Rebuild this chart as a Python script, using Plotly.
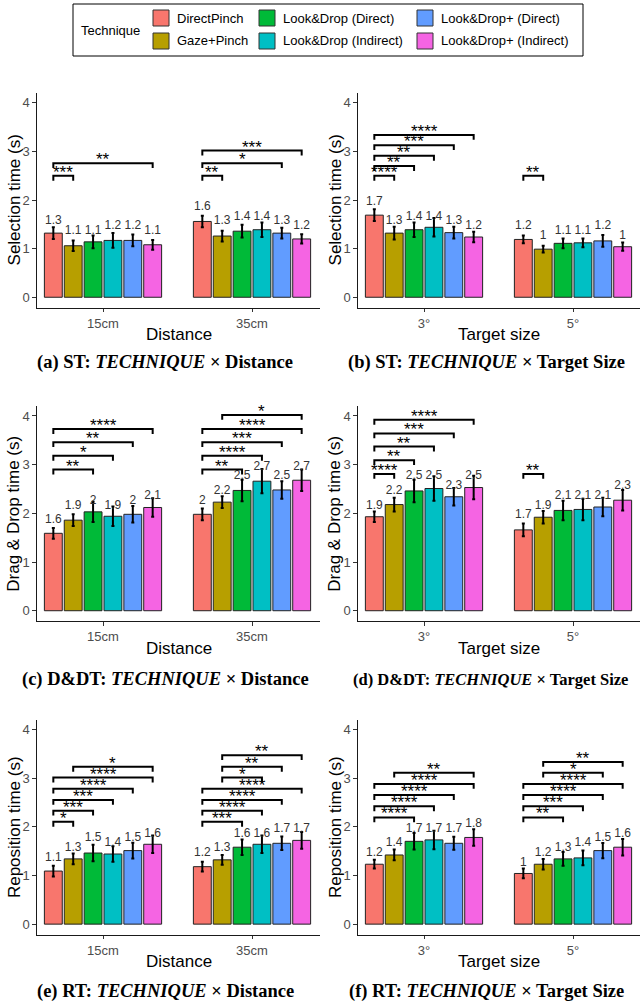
import plotly.graph_objects as go

# ---------------- data ----------------
techniques = ["DirectPinch", "Gaze+Pinch", "Look&Drop (Direct)", "Look&Drop (Indirect)",
              "Look&Drop+ (Direct)", "Look&Drop+ (Indirect)"]
colors = ["#F8766D", "#B79F00", "#00BA38", "#00BFC4", "#619CFF", "#F564E3"]

distance_labels = ["15cm", "35cm"]
size_labels = ["3°", "5°"]

# Selection time x Distance
st_dist_mean_15 = [1.32, 1.06, 1.14, 1.17, 1.17, 1.08]
st_dist_se_15 = [0.12, 0.11, 0.13, 0.15, 0.12, 0.10]
st_dist_mean_35 = [1.56, 1.26, 1.36, 1.39, 1.32, 1.20]
st_dist_se_35 = [0.12, 0.11, 0.13, 0.15, 0.11, 0.095]
# Selection time x Target size
st_size_mean_3 = [1.69, 1.32, 1.39, 1.44, 1.33, 1.24]
st_size_se_3 = [0.12, 0.13, 0.15, 0.19, 0.12, 0.11]
st_size_mean_5 = [1.19, 0.99, 1.11, 1.12, 1.16, 1.04]
st_size_se_5 = [0.08, 0.07, 0.10, 0.09, 0.12, 0.085]
# Drag & drop time x Distance
dd_dist_mean_15 = [1.59, 1.86, 2.03, 1.94, 1.98, 2.12]
dd_dist_se_15 = [0.11, 0.12, 0.21, 0.20, 0.17, 0.19]
dd_dist_mean_35 = [1.98, 2.23, 2.47, 2.66, 2.48, 2.68]
dd_dist_se_35 = [0.12, 0.12, 0.22, 0.25, 0.18, 0.22]
# Drag & drop time x Target size
dd_size_mean_3 = [1.93, 2.18, 2.46, 2.51, 2.34, 2.53]
dd_size_se_3 = [0.11, 0.14, 0.23, 0.25, 0.18, 0.24]
dd_size_mean_5 = [1.66, 1.92, 2.06, 2.08, 2.13, 2.27]
dd_size_se_5 = [0.13, 0.13, 0.20, 0.22, 0.19, 0.21]
# Reposition time x Distance
rt_dist_mean_15 = [1.09, 1.34, 1.46, 1.44, 1.51, 1.64]
rt_dist_se_15 = [0.11, 0.11, 0.17, 0.16, 0.16, 0.18]
rt_dist_mean_35 = [1.18, 1.32, 1.58, 1.64, 1.66, 1.72]
rt_dist_se_35 = [0.10, 0.10, 0.16, 0.18, 0.14, 0.17]
# Reposition time x Target size
rt_size_mean_3 = [1.23, 1.42, 1.70, 1.73, 1.66, 1.78]
rt_size_se_3 = [0.09, 0.11, 0.17, 0.19, 0.135, 0.17]
rt_size_mean_5 = [1.04, 1.23, 1.34, 1.36, 1.51, 1.58]
rt_size_se_5 = [0.10, 0.11, 0.14, 0.15, 0.155, 0.17]

# significance brackets: (group, technique i, technique j, height, label)
st_dist_sig = [(0, 0, 1, 2.50, "***"), (0, 0, 5, 2.76, "**"),
               (1, 0, 1, 2.50, "**"), (1, 0, 4, 2.76, "*"), (1, 0, 5, 3.02, "***")]
st_size_sig = [(0, 0, 1, 2.50, "****"), (0, 0, 2, 2.70, "**"), (0, 0, 3, 2.91, "**"),
               (0, 0, 4, 3.13, "***"), (0, 0, 5, 3.34, "****"), (1, 0, 1, 2.50, "**")]
dd_dist_sig = [(0, 0, 2, 2.90, "**"), (0, 0, 3, 3.18, "*"), (0, 0, 4, 3.46, "**"),
               (0, 0, 5, 3.73, "****"), (1, 0, 2, 2.90, "**"), (1, 0, 3, 3.18, "****"),
               (1, 0, 4, 3.46, "***"), (1, 0, 5, 3.73, "****"), (1, 1, 5, 4.02, "*")]
dd_size_sig = [(0, 0, 1, 2.81, "****"), (0, 0, 2, 3.09, "**"), (0, 0, 3, 3.37, "**"),
               (0, 0, 4, 3.64, "***"), (0, 0, 5, 3.92, "****"), (1, 0, 1, 2.81, "**")]
rt_dist_sig = [(0, 0, 1, 2.10, "*"), (0, 0, 2, 2.33, "***"), (0, 0, 3, 2.55, "***"),
               (0, 0, 4, 2.78, "****"), (0, 0, 5, 3.01, "****"), (0, 1, 5, 3.23, "*"),
               (1, 0, 2, 2.10, "***"), (1, 0, 3, 2.33, "****"), (1, 0, 4, 2.55, "****"),
               (1, 0, 5, 2.78, "****"), (1, 1, 3, 3.01, "*"), (1, 1, 4, 3.23, "**"),
               (1, 1, 5, 3.47, "**")]
rt_size_sig = [(0, 0, 2, 2.19, "****"), (0, 0, 3, 2.42, "****"), (0, 0, 4, 2.65, "****"),
               (0, 0, 5, 2.88, "****"), (0, 1, 5, 3.11, "**"),
               (1, 0, 2, 2.19, "**"), (1, 0, 3, 2.42, "***"), (1, 0, 4, 2.65, "****"),
               (1, 0, 5, 2.88, "****"), (1, 1, 4, 3.11, "*"), (1, 1, 5, 3.33, "**")]

y_titles = ["Selection time (s)", "Drag & Drop time (s)", "Reposition time (s)"]
x_titles = ["Distance", "Target size"]
captions = ["<b>(a) ST: <i>TECHNIQUE</i> × Distance</b>",
            "<b>(b) ST: <i>TECHNIQUE</i> × Target Size</b>",
            "<b>(c) D&amp;DT: <i>TECHNIQUE</i> × Distance</b>",
            "<b>(d) D&amp;DT: <i>TECHNIQUE</i> × Target Size</b>",
            "<b>(e) RT: <i>TECHNIQUE</i> × Distance</b>",
            "<b>(f) RT: <i>TECHNIQUE</i> × Target Size</b>"]

panels = [
    (st_dist_mean_15, st_dist_se_15, st_dist_mean_35, st_dist_se_35, st_dist_sig, distance_labels),
    (st_size_mean_3, st_size_se_3, st_size_mean_5, st_size_se_5, st_size_sig, size_labels),
    (dd_dist_mean_15, dd_dist_se_15, dd_dist_mean_35, dd_dist_se_35, dd_dist_sig, distance_labels),
    (dd_size_mean_3, dd_size_se_3, dd_size_mean_5, dd_size_se_5, dd_size_sig, size_labels),
    (rt_dist_mean_15, rt_dist_se_15, rt_dist_mean_35, rt_dist_se_35, rt_dist_sig, distance_labels),
    (rt_size_mean_3, rt_size_se_3, rt_size_mean_5, rt_size_se_5, rt_size_sig, size_labels),
]

# ---------------- layout geometry (pixels) ----------------
W, H = 640, 1002
row_px = [(93.2, 307.7), (406.2, 621.2), (719.6, 934.6)]
col_px = [(37, 320), (358, 640)]
unit_px = 149.0
x_left = 1 - 66 / unit_px
y_range = [-0.215, 4.2]
pitch = 0.8 / 6
bar_w = 0.12
tip = 0.1
SANS = "Liberation Sans, Arial, sans-serif"
SERIF = "Liberation Serif, Times New Roman, serif"


def px_x(p):
    return p / W


def px_y(p):
    return 1 - p / H


fig = go.Figure()
annotations = []
shapes = []
layout_axes = {}

for k, (m1, s1, m2, s2, sig, cats) in enumerate(panels):
    r, c = k // 2, k % 2
    sfx = "" if k == 0 else str(k + 1)
    xa, ya = "x" + sfx, "y" + sfx
    x0p, x1p = col_px[c]
    t_p, b_p = row_px[r]
    xr = [x_left, x_left + (x1p - x0p) / unit_px]
    common = dict(showline=True, linecolor="#1a1a1a", linewidth=1.2, ticks="outside",
                  ticklen=3.5, tickwidth=1, tickcolor="#333333", showgrid=False,
                  zeroline=False, tickfont=dict(family=SANS, size=13, color="#4D4D4D"))
    layout_axes["xaxis" + sfx] = dict(domain=[px_x(x0p), px_x(x1p)], range=xr,
                                      tickvals=[1, 2], ticktext=cats, anchor=ya, **common)
    layout_axes["yaxis" + sfx] = dict(domain=[px_y(b_p), px_y(t_p)], range=y_range,
                                      tickvals=[0, 1, 2, 3, 4], anchor=xa, **common)

    lab_x, lab_y, lab_t = [], [], []
    for i, tech in enumerate(techniques):
        off = (i - 2.5) * pitch
        xs = [1 + off, 2 + off]
        ys = [m1[i], m2[i]]
        fig.add_trace(go.Bar(
            x=xs, y=ys, width=bar_w, xaxis=xa, yaxis=ya, name=tech,
            marker=dict(color=colors[i], line=dict(color="#222222", width=1)),
            error_y=dict(type="data", array=[s1[i], s2[i]], color="black",
                         thickness=2, width=1.5),
            showlegend=False, hoverinfo="skip"))
        for xv, yv in zip(xs, ys):
            rv = round(yv, 1)
            lab_x.append(xv)
            lab_y.append(rv + 0.26)
            lab_t.append(f"{rv:g}")
    fig.add_trace(go.Scatter(x=lab_x, y=lab_y, text=lab_t, mode="text", xaxis=xa, yaxis=ya,
                             textposition="middle center",
                             textfont=dict(family=SANS, size=12, color="#333333"),
                             showlegend=False, hoverinfo="skip"))

    bx, by = [], []
    for (g, i, j, h, lab) in sig:
        xi = g + 1 + (i - 2.5) * pitch
        xj = g + 1 + (j - 2.5) * pitch
        bx += [xi, xi, xj, xj, None]
        by += [h - tip, h, h, h - tip, None]
        annotations.append(dict(x=(xi + xj) / 2, y=h, xref=xa, yref=ya, text=lab,
                                showarrow=False, yanchor="bottom", yshift=-8,
                                font=dict(family=SANS, size=17, color="black")))
    fig.add_trace(go.Scatter(x=bx, y=by, mode="lines", xaxis=xa, yaxis=ya,
                             line=dict(color="black", width=2), showlegend=False,
                             hoverinfo="skip"))

    # axis titles
    annotations.append(dict(x=px_x(x0p - 23), y=px_y((t_p + b_p) / 2), xref="paper", yref="paper",
                            text=y_titles[r], textangle=-90, showarrow=False,
                            xanchor="center", yanchor="middle",
                            font=dict(family=SANS, size=17, color="black")))
    annotations.append(dict(x=px_x((x0p + x1p) / 2), y=px_y(b_p + 27), xref="paper", yref="paper",
                            text=x_titles[c], showarrow=False, xanchor="center", yanchor="middle",
                            font=dict(family=SANS, size=17, color="black")))

# captions
cap_y = [362, 679, 991]
for k, cap in enumerate(captions):
    r, c = k // 2, k % 2
    if k == 3:
        annotations.append(dict(x=px_x(351), y=px_y(cap_y[r]), xref="paper", yref="paper",
                                text=cap, showarrow=False, xanchor="left", yanchor="middle",
                                font=dict(family=SERIF, size=16.5, color="black")))
    else:
        cx = 165 if c == 0 else 486
        annotations.append(dict(x=px_x(cx), y=px_y(cap_y[r]), xref="paper", yref="paper",
                                text=cap, showarrow=False, xanchor="center", yanchor="middle",
                                font=dict(family=SERIF, size=18.5, color="black")))

# legend (drawn as a box with swatches)
shapes.append(dict(type="rect", xref="paper", yref="paper", x0=px_x(73), x1=px_x(583),
                   y0=px_y(56), y1=px_y(4), line=dict(color="black", width=1),
                   fillcolor="white", layer="below"))
annotations.append(dict(x=px_x(79), y=px_y(30), xref="paper", yref="paper", text="Technique",
                        showarrow=False, xanchor="left", yanchor="middle",
                        font=dict(family=SANS, size=13, color="black")))
leg_col_x = [153, 259, 417]
leg_row_y = [18, 41]
for k, tech in enumerate(techniques):
    cx = leg_col_x[k // 2]
    cy = leg_row_y[k % 2]
    shapes.append(dict(type="rect", xref="paper", yref="paper", x0=px_x(cx), x1=px_x(cx + 16),
                       y0=px_y(cy + 8), y1=px_y(cy - 8), fillcolor=colors[k],
                       line=dict(color="#333333", width=1)))
    annotations.append(dict(x=px_x(cx + 22), y=px_y(cy), xref="paper", yref="paper", text=tech,
                            showarrow=False, xanchor="left", yanchor="middle",
                            font=dict(family=SANS, size=13, color="black")))

fig.update_layout(width=W, height=H, margin=dict(l=0, r=0, t=0, b=0),
                  plot_bgcolor="white", paper_bgcolor="white", showlegend=False,
                  barmode="overlay", annotations=annotations, shapes=shapes, **layout_axes)

fig.write_html("out.html", config={"displayModeBar": False},
               post_script="document.body.style.margin='0px';document.body.style.overflow='hidden';")
